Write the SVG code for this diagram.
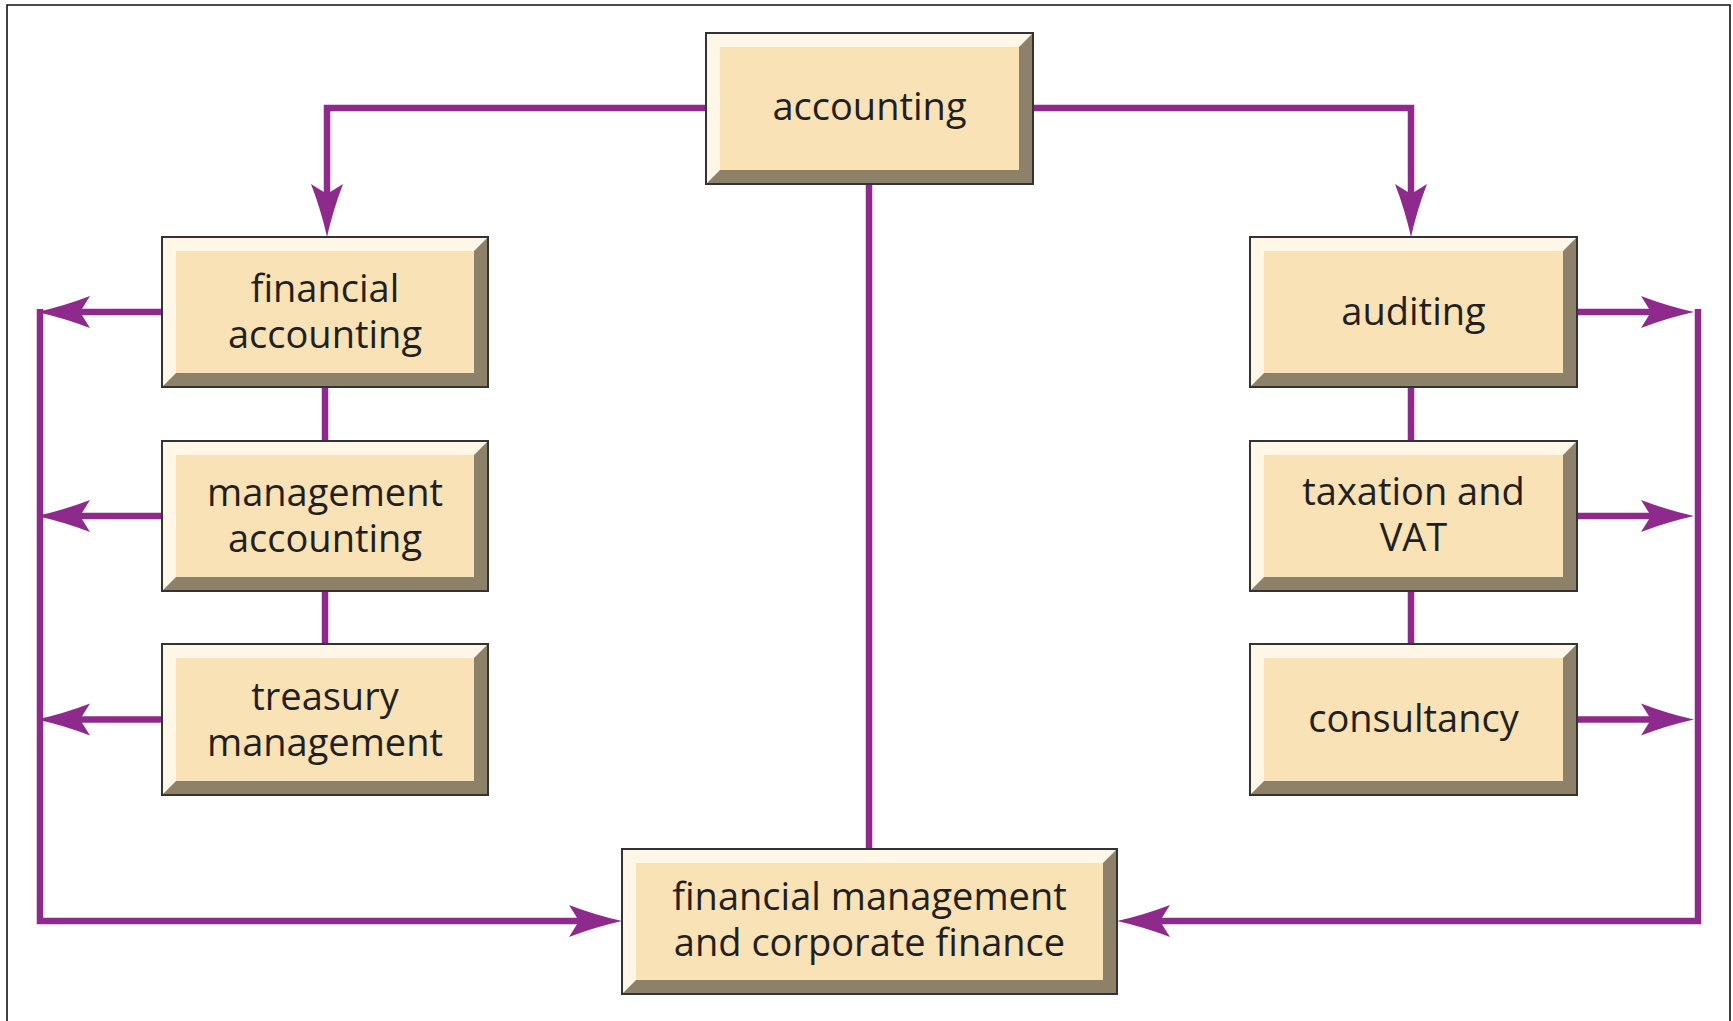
<svg xmlns="http://www.w3.org/2000/svg" width="1733" height="1021" viewBox="0 0 1733 1021">
  <defs>
    <style>
      .frame { fill: none; stroke: #111; stroke-width: 1.6; }
      .dark { fill: #8D816A; }
      .light { fill: #FEF6E6; }
      .face { fill: #F8E2B6; }
      .edge { fill: none; stroke: #333; stroke-width: 2; }
      .lbl { font-family: "Open Sans", "Noto Sans", "Liberation Sans", sans-serif; font-size: 38px; fill: #231f20; text-anchor: middle; }
      .link { fill: none; stroke: #8E2A8C; stroke-width: 6.5; stroke-linejoin: miter; }
    </style>
    <!-- barbed arrowhead; origin sits at the notch, tip 43px ahead -->
    <marker id="arrow" markerUnits="userSpaceOnUse" viewBox="-12 -18 58 36" markerWidth="58" markerHeight="36" refX="0" refY="0" orient="auto" overflow="visible">
      <path d="M43,0 Q16,-6 -10,-16 L0,0 L-10,16 Q16,6 43,0 Z" fill="#8E2A8C"/>
    </marker>
  </defs>

  <rect width="1733" height="1021" fill="#fff"/>
  <path class="frame" d="M7,1021 V5 H1730 V1021"/>

  <!-- connectors -->
  <g id="connectors">
    <path class="link" d="M706,108 H327 V194" marker-end="url(#arrow)"/>
    <path class="link" d="M1033,108 H1411 V194" marker-end="url(#arrow)"/>
    <path class="link" d="M869,184 V849"/>
    <path class="link" d="M325,387 V441"/>
    <path class="link" d="M325,591 V644"/>
    <path class="link" d="M1411,387 V441"/>
    <path class="link" d="M1411,591 V644"/>
    <path class="link" d="M162,312 H80" marker-end="url(#arrow)"/>
    <path class="link" d="M162,516 H80" marker-end="url(#arrow)"/>
    <path class="link" d="M162,719.5 H80" marker-end="url(#arrow)"/>
    <path class="link" d="M40,309 V921 H579" marker-end="url(#arrow)"/>
    <path class="link" d="M1577,312 H1651" marker-end="url(#arrow)"/>
    <path class="link" d="M1577,516 H1651" marker-end="url(#arrow)"/>
    <path class="link" d="M1577,719.5 H1651" marker-end="url(#arrow)"/>
    <path class="link" d="M1698,309 V921 H1160" marker-end="url(#arrow)"/>
  </g>

  <!-- nodes: bevelled boxes, 14px bevel -->
  <g id="accounting">
    <rect class="dark" x="706" y="33" width="327" height="151"/>
    <polygon class="light" points="706,33 1033,33 1019,47 720,47 720,170 706,184"/>
    <rect class="face" x="720" y="47" width="299" height="123"/>
    <rect class="edge" x="706" y="33" width="327" height="151"/>
    <text class="lbl" x="869.5" y="120">accounting</text>
  </g>

  <g id="financial-accounting">
    <rect class="dark" x="162" y="237" width="326" height="150"/>
    <polygon class="light" points="162,237 488,237 474,251 176,251 176,373 162,387"/>
    <rect class="face" x="176" y="251" width="298" height="122"/>
    <rect class="edge" x="162" y="237" width="326" height="150"/>
    <text class="lbl" x="325" y="302">financial</text>
    <text class="lbl" x="325" y="348">accounting</text>
  </g>

  <g id="management-accounting">
    <rect class="dark" x="162" y="441" width="326" height="150"/>
    <polygon class="light" points="162,441 488,441 474,455 176,455 176,577 162,591"/>
    <rect class="face" x="176" y="455" width="298" height="122"/>
    <rect class="edge" x="162" y="441" width="326" height="150"/>
    <text class="lbl" x="325" y="506">management</text>
    <text class="lbl" x="325" y="552">accounting</text>
  </g>

  <g id="treasury-management">
    <rect class="dark" x="162" y="644" width="326" height="151"/>
    <polygon class="light" points="162,644 488,644 474,658 176,658 176,781 162,795"/>
    <rect class="face" x="176" y="658" width="298" height="123"/>
    <rect class="edge" x="162" y="644" width="326" height="151"/>
    <text class="lbl" x="325" y="709.5">treasury</text>
    <text class="lbl" x="325" y="755.5">management</text>
  </g>

  <g id="auditing">
    <rect class="dark" x="1250" y="237" width="327" height="150"/>
    <polygon class="light" points="1250,237 1577,237 1563,251 1264,251 1264,373 1250,387"/>
    <rect class="face" x="1264" y="251" width="299" height="122"/>
    <rect class="edge" x="1250" y="237" width="327" height="150"/>
    <text class="lbl" x="1413.5" y="325">auditing</text>
  </g>

  <g id="taxation-vat">
    <rect class="dark" x="1250" y="441" width="327" height="150"/>
    <polygon class="light" points="1250,441 1577,441 1563,455 1264,455 1264,577 1250,591"/>
    <rect class="face" x="1264" y="455" width="299" height="122"/>
    <rect class="edge" x="1250" y="441" width="327" height="150"/>
    <text class="lbl" x="1413.5" y="505">taxation and</text>
    <text class="lbl" x="1413.5" y="551">VAT</text>
  </g>

  <g id="consultancy">
    <rect class="dark" x="1250" y="644" width="327" height="151"/>
    <polygon class="light" points="1250,644 1577,644 1563,658 1264,658 1264,781 1250,795"/>
    <rect class="face" x="1264" y="658" width="299" height="123"/>
    <rect class="edge" x="1250" y="644" width="327" height="151"/>
    <text class="lbl" x="1413.5" y="731.5">consultancy</text>
  </g>

  <g id="financial-management">
    <rect class="dark" x="622" y="849" width="495" height="145"/>
    <polygon class="light" points="622,849 1117,849 1103,863 636,863 636,980 622,994"/>
    <rect class="face" x="636" y="863" width="467" height="117"/>
    <rect class="edge" x="622" y="849" width="495" height="145"/>
    <text class="lbl" x="869.5" y="910">financial management</text>
    <text class="lbl" x="869.5" y="956">and corporate finance</text>
  </g>
</svg>
